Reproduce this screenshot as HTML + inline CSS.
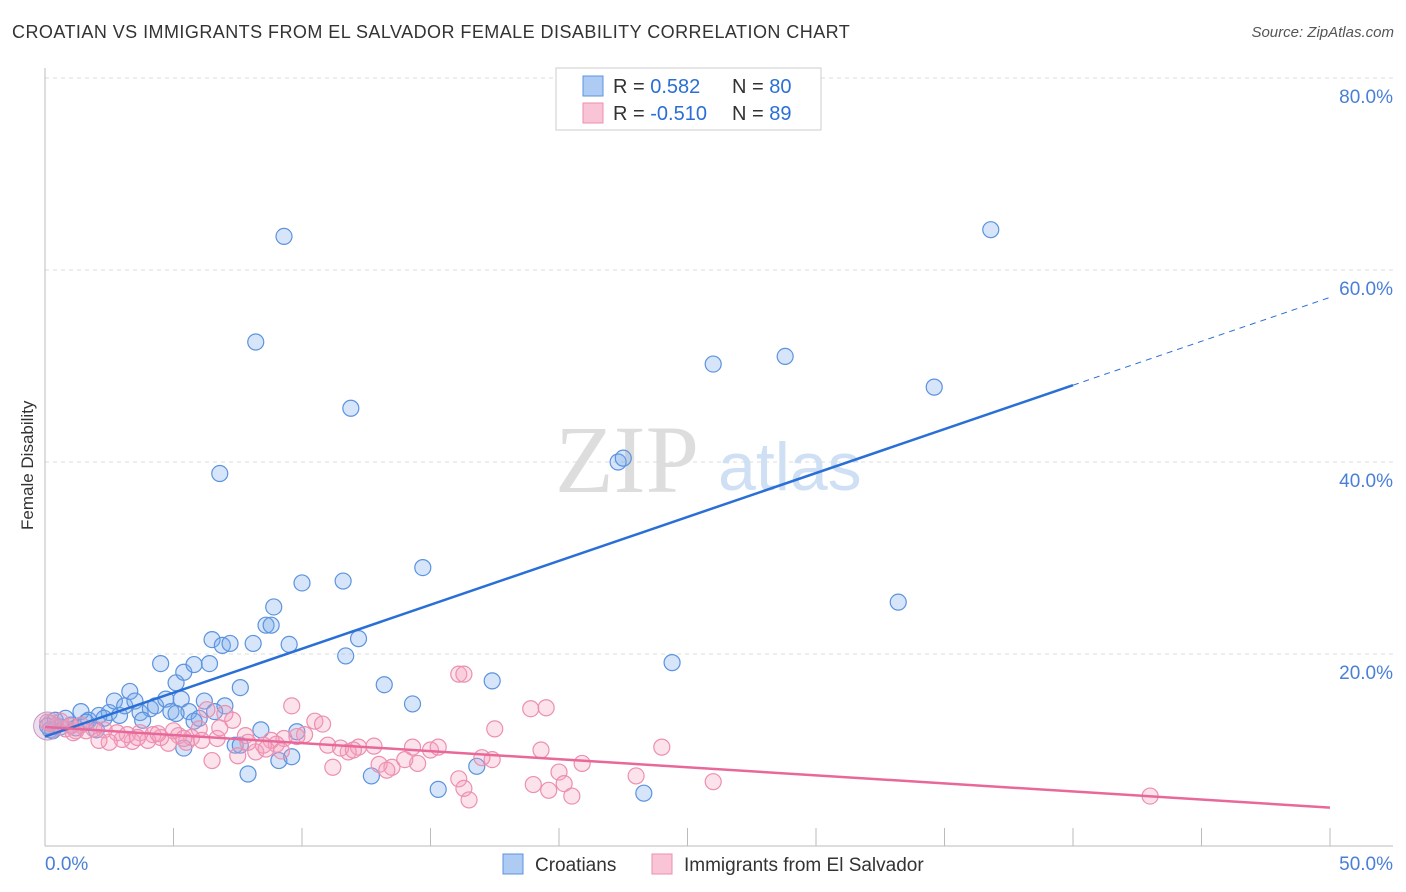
<!DOCTYPE html>
<html><head><meta charset="utf-8"><style>
body{margin:0;background:#fff;font-family:"Liberation Sans",sans-serif;}
#wrap{position:relative;width:1406px;height:892px;overflow:hidden;}
.t{position:absolute;white-space:nowrap;}
</style></head><body>
<div id="wrap">
<div class="t" style="left:12px;top:22px;font-size:18px;letter-spacing:0.45px;color:#333;">CROATIAN VS IMMIGRANTS FROM EL SALVADOR FEMALE DISABILITY CORRELATION CHART</div>
<div class="t" style="right:12px;top:24px;font-size:15px;color:#555;font-style:italic;">Source: ZipAtlas.com</div>
<div class="t" style="left:18px;top:530px;font-size:17px;color:#333;transform:rotate(-90deg);transform-origin:0 0;">Female Disability</div>
<svg id="svg" width="1406" height="892" style="position:absolute;left:0;top:0;"></svg>
</div>
<script>
const xTicks=[0,5,10,15,20,25,30,35,40,45,50];
const yTicks=[20,40,60,80];
const blueX=[0.2,0.6,1.0,1.4,1.7,2.1,2.5,2.7,2.9,3.1,3.3,3.5,3.7,4.1,4.3,4.5,4.7,4.9,5.1,5.3,5.4,5.6,5.8,6.0,6.2,6.4,6.5,6.8,6.9,7.0,7.2,7.4,7.6,7.9,8.1,8.2,8.4,8.6,8.8,8.9,9.1,9.3,9.5,9.6,9.8,10.0,11.6,11.7,11.9,12.2,12.7,13.2,14.3,14.7,15.3,16.8,17.4,22.3,22.5,23.3,24.4,26.0,28.8,33.2,34.6,36.8,0.4,0.8,1.2,1.6,2.0,2.3,3.8,5.1,5.8,6.6,7.6,5.4,0.1,0.3];
const blueY=[12.1,12.4,12.6,14.0,13.1,13.6,13.9,15.1,13.6,14.6,16.1,15.1,13.9,14.3,14.6,19.0,15.3,14.0,17.0,15.3,18.1,14.0,18.9,13.3,15.1,19.0,21.5,38.8,20.9,14.6,21.1,10.5,16.5,7.5,21.1,52.5,12.1,23.0,23.0,24.9,8.9,63.5,21.0,9.3,11.9,27.4,27.6,19.8,45.6,21.6,7.3,16.8,14.8,29.0,5.9,8.3,17.2,40.0,40.4,5.5,19.1,50.2,51.0,25.4,47.8,64.2,13.1,13.3,12.3,12.9,12.1,13.3,13.1,13.8,13.0,14.0,10.5,10.2,12.5,12.0];
const pinkX=[16.1,16.3,17.5,17.4,18.9,19.0,19.5,19.3,19.6,20.0,20.2,20.5,20.9,23.0,24.0,26.0,43.0,16.1,16.3,16.5,15.0,15.3,14.3,14.5,13.5,13.0,13.3,12.8,12.2,11.8,11.5,11.2,11.0,10.5,10.1,9.8,9.6,9.3,9.0,8.8,8.5,8.2,7.8,7.5,7.3,7.0,6.7,6.5,6.3,6.0,5.7,5.5,5.2,5.0,4.8,4.5,4.2,4.0,3.7,3.4,3.2,3.0,2.8,2.5,2.3,2.1,1.9,1.6,1.4,1.2,1.0,0.8,0.6,0.4,0.2,0.1,6.1,7.9,9.2,10.8,12.0,14.0,17.0,3.6,4.4,5.4,6.8,8.6,1.1];
const pinkY=[17.9,17.9,12.2,9.0,14.3,6.4,14.4,10.0,5.8,7.7,6.5,5.2,8.6,7.3,10.3,6.7,5.2,7.0,6.0,4.8,10.0,10.3,10.3,8.6,8.2,8.5,7.9,10.4,10.3,9.8,10.2,8.2,10.5,13.0,11.6,11.4,14.6,11.2,10.6,11.0,10.5,9.8,11.5,9.4,13.1,13.8,11.2,8.9,14.2,12.2,11.3,10.8,11.5,12.0,10.7,11.3,11.6,11.0,11.8,10.9,11.6,11.1,11.8,10.8,12.1,11.0,12.2,12.0,12.6,12.0,12.5,12.2,13.0,12.5,12.8,12.9,11.0,10.8,9.9,12.7,10.0,9.0,9.2,11.3,11.7,11.2,12.3,10.1,11.8];
const blueFit=[11.4,0.915];
const pinkFit=[12.4,-0.168];
const X=v=>45+v*25.7, Y=v=>846-v*9.6;
const svg=document.getElementById('svg');const NS='http://www.w3.org/2000/svg';
function mk(t,a,p){const e=document.createElementNS(NS,t);for(const k in a)e.setAttribute(k,a[k]);(p||svg).appendChild(e);return e;}
let e;
yTicks.forEach(v=>{e=mk('line',{x1:45,x2:1393,y1:Y(v),y2:Y(v),stroke:'#ddd','stroke-dasharray':'4,4'});


e=mk('text',{x:1393,y:Y(v)+25,'text-anchor':'end','font-size':19,fill:'#4a7fd6','font-family':'Liberation Sans'});e.textContent=v.toFixed(1)+'%';

});
e=mk('line',{x1:45,x2:45,y1:68,y2:846,stroke:'#bbb'});


e=mk('line',{x1:45,x2:1393,y1:846,y2:846,stroke:'#bbb'});


xTicks.forEach(v=>{e=mk('line',{x1:X(v),x2:X(v),y1:828,y2:846,stroke:'#bbb'});

});
e=mk('text',{x:45,y:870,'font-size':19,fill:'#4a7fd6'});e.textContent='0.0%';


e=mk('text',{x:1393,y:870,'text-anchor':'end','font-size':19,fill:'#4a7fd6'});e.textContent='50.0%';


e=mk('text',{x:555,y:492,'font-size':96,fill:'#ddd','font-family':'Liberation Serif'});e.textContent='ZIP';


e=mk('text',{x:718,y:490,'font-size':68,fill:'#cfe0f4'});e.textContent='atlas';


blueX.forEach((x,i)=>{e=mk('circle',{cx:X(x),cy:Y(blueY[i]),r:8,fill:'rgba(120,170,235,0.3)',stroke:'#5b93de','stroke-width':1.2});

});
pinkX.forEach((x,i)=>{e=mk('circle',{cx:X(x),cy:Y(pinkY[i]),r:8,fill:'rgba(245,160,190,0.3)',stroke:'#ec8fb0','stroke-width':1.2});

});
e=mk('circle',{cx:X(0.1),cy:Y(12.5),r:14,fill:'rgba(200,160,200,0.35)',stroke:'#c49ac8'});


e=mk('line',{x1:X(0),y1:Y(blueFit[0]),x2:X(40),y2:Y(blueFit[0]+blueFit[1]*40),stroke:'#2a6fd6','stroke-width':2.5});


e=mk('line',{x1:X(40),y1:Y(blueFit[0]+blueFit[1]*40),x2:X(50),y2:Y(blueFit[0]+blueFit[1]*50),stroke:'#2a6fd6','stroke-width':1,'stroke-dasharray':'6,5'});


e=mk('line',{x1:X(0),y1:Y(pinkFit[0]),x2:X(50),y2:Y(pinkFit[0]+pinkFit[1]*50),stroke:'#e8689a','stroke-width':2.5});


e=mk('rect',{x:556,y:68,width:265,height:62,fill:'#fff',stroke:'#ccc'});


[['#aecbf3','#5b93de','0.582','80',86],['#f8c4d6','#ec8fb0','-0.510','89',113]].forEach(r=>{
e=mk('rect',{x:583,y:r[4]-10,width:20,height:20,fill:r[0],stroke:r[1]});


e=mk('text',{x:613,y:r[4]+7,'font-size':20,fill:'#333'});e.innerHTML='R = <tspan fill="#2a6fd6">'+r[2]+'</tspan>';


e=mk('text',{x:732,y:r[4]+7,'font-size':20,fill:'#333'});e.innerHTML='N = <tspan fill="#2a6fd6">'+r[3]+'</tspan>';

});
[['#aecbf3','#5b93de','Croatians',503],['#f8c4d6','#ec8fb0','Immigrants from El Salvador',652]].forEach(r=>{
e=mk('rect',{x:r[3],y:854,width:20,height:20,fill:r[0],stroke:r[1]});


e=mk('text',{x:r[3]+32,y:871,'font-size':19,fill:'#333'});e.textContent=r[2];

});
</script>
</body></html>
